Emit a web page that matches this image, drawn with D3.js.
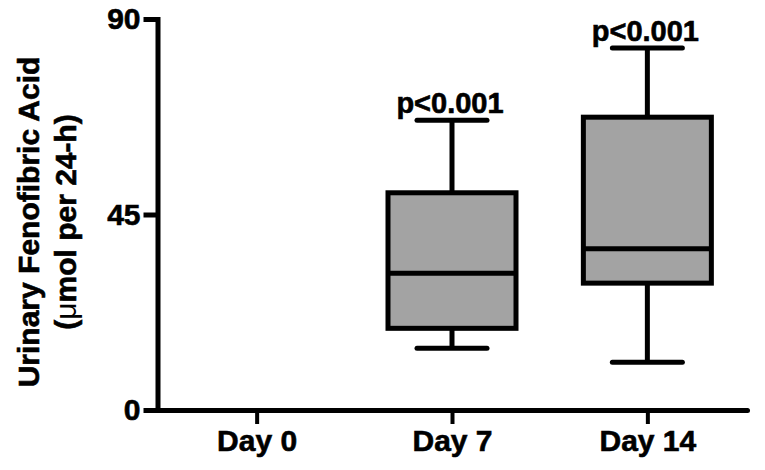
<!DOCTYPE html>
<html>
<head>
<meta charset="utf-8">
<script src="https://cdn.jsdelivr.net/npm/d3@7"></script>
<style>
  body { margin: 0; background: #fff; }
  text { font-family: "Liberation Sans", Arial, Helvetica, sans-serif; font-weight: bold; fill: #000; stroke: #000; stroke-width: 0.6px; }
</style>
</head>
<body>
<svg width="765" height="470"></svg>
<script>
// box plot data (Day 0 has no box)
const days = ["Day 0", "Day 7", "Day 14"];
const whiskerLow = [null, 14.2, 11.0];
const q1 = [null, 18.8, 29.2];
const median = [null, 31.5, 37.1];
const q3 = [null, 50.0, 67.4];
const whiskerHigh = [null, 66.7, 83.3];
const pLabels = ["", "p<0.001", "p<0.001"];
const yTicks = [0, 45, 90];

const svg = d3.select("svg");

const x = d3.scalePoint().domain(days).range([157, 747]).padding(0.51);
const y = d3.scaleLinear().domain([0, 90]).range([410, 19]);

const boxW = 128, capW = 70;

const data = days.map((d, i) => ({
  day: d, lo: whiskerLow[i], q1: q1[i], med: median[i], q3: q3[i], hi: whiskerHigh[i], p: pLabels[i]
})).filter(d => d.med != null);

const g = svg.append("g");

// whiskers
g.selectAll(".whisker")
  .data(data)
  .enter()
  .append("line")
  .attr("x1", d => x(d.day)).attr("x2", d => x(d.day))
  .attr("y1", d => y(d.lo)).attr("y2", d => y(d.hi))
  .attr("stroke", "#000").attr("stroke-width", 5);

// caps
["lo", "hi"].forEach(k => {
  g.selectAll(".cap-" + k)
    .data(data)
    .enter()
    .append("line")
    .attr("x1", d => x(d.day) - capW / 2).attr("x2", d => x(d.day) + capW / 2)
    .attr("y1", d => y(d[k])).attr("y2", d => y(d[k]))
    .attr("stroke", "#000").attr("stroke-width", 5)
    .attr("stroke-linecap", "round");
});

// boxes
g.selectAll(".box")
  .data(data)
  .enter()
  .append("rect")
  .attr("x", d => x(d.day) - boxW / 2)
  .attr("width", boxW)
  .attr("y", d => y(d.q3))
  .attr("height", d => y(d.q1) - y(d.q3))
  .attr("fill", "#a3a3a3")
  .attr("stroke", "#000").attr("stroke-width", 5);

// medians
g.selectAll(".median")
  .data(data)
  .enter()
  .append("line")
  .attr("x1", d => x(d.day) - boxW / 2).attr("x2", d => x(d.day) + boxW / 2)
  .attr("y1", d => y(d.med)).attr("y2", d => y(d.med))
  .attr("stroke", "#000").attr("stroke-width", 5);

// p value labels above the upper whisker
g.selectAll(".plabel")
  .data(data)
  .enter()
  .append("text")
  .attr("x", d => x(d.day) - 2)
  .attr("y", d => y(d.hi) - 7)
  .attr("text-anchor", "middle")
  .style("font-size", "29px")
  .text(d => d.p);

// axes
const yAxis = svg.append("g")
  .attr("transform", "translate(157.5,0)")
  .call(d3.axisLeft(y).tickValues(yTicks).tickSize(14).tickSizeOuter(0).tickPadding(3));
yAxis.select(".domain").attr("stroke-width", 5).attr("stroke-linecap", "square");
yAxis.selectAll(".tick line").attr("stroke-width", 5);
yAxis.selectAll(".tick text").style("font-size", "30px");

const xAxis = svg.append("g")
  .attr("transform", "translate(0,410)")
  .call(d3.axisBottom(x).tickSize(14).tickSizeOuter(0).tickPadding(6));
xAxis.select(".domain").attr("stroke-width", 5).attr("stroke-linecap", "round");
xAxis.selectAll(".tick line").attr("stroke-width", 4);
xAxis.selectAll(".tick text").style("font-size", "30px");

// y axis title, two lines
const title = svg.append("g").attr("transform", "translate(39,222) rotate(-90)");
title.append("text")
  .attr("text-anchor", "middle")
  .style("font-size", "30px")
  .text("Urinary Fenofibric Acid");
const t2 = title.append("text")
  .attr("text-anchor", "middle")
  .attr("y", 37)
  .style("font-size", "30px");
t2.append("tspan").text("(");
t2.append("tspan").style("font-weight", "normal").style("stroke-width", "0px").text("μ");
t2.append("tspan").text("mol per 24-h)");
</script>
</body>
</html>
